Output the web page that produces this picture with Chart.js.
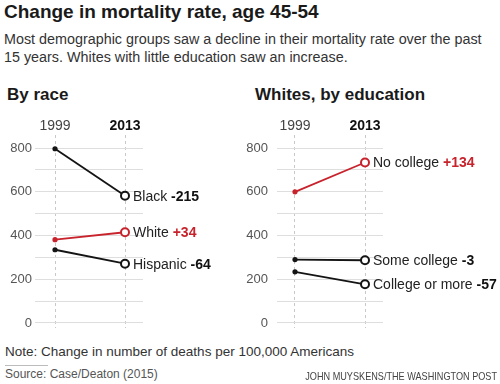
<!DOCTYPE html>
<html>
<head>
<meta charset="utf-8">
<script src="https://cdn.jsdelivr.net/npm/chart.js@4.4.1/dist/chart.umd.min.js"></script>
<style>
  body { margin: 0; width: 500px; height: 384px; background: #fff; overflow: hidden; position: relative;
         font-family: "Liberation Sans", Arial, sans-serif; color: #222; }
  .txt { position: absolute; white-space: nowrap; }
  #title { left: 4px; top: 1px; font-size: 19px; line-height: 22px; font-weight: bold; color: #1a1a1a; }
  #sub { left: 4px; top: 30px; font-size: 14.35px; line-height: 18px; color: #333; }
  .head { top: 85px; font-size: 17px; line-height: 20px; font-weight: bold; color: #1a1a1a; }
  #note { left: 5px; top: 344px; font-size: 13.5px; line-height: 16px; color: #333; }
  #rule { position: absolute; left: 5px; top: 365px; width: 43px; height: 1px; background: #bbb; }
  #source { left: 5px; top: 366px; font-size: 12px; line-height: 16px; color: #555; }
  #credit { right: 3px; top: 369px; font-size: 11px; line-height: 14px; color: #444;
            transform: scaleX(0.83); transform-origin: right center; }
  canvas { position: absolute; top: 110px; }
</style>
</head>
<body>
<div class="txt" id="title">Change in mortality rate, age 45-54</div>
<div class="txt" id="sub">Most demographic groups saw a decline in their mortality rate over the past<br>15 years. Whites with little education saw an increase.</div>
<div class="txt head" style="left:7px">By race</div>
<div class="txt head" style="left:255px">Whites, by education</div>
<canvas id="racechart" width="250" height="224" style="left:0px"></canvas>
<canvas id="educhart" width="257" height="224" style="left:243px"></canvas>
<div class="txt" id="note">Note: Change in number of deaths per 100,000 Americans</div>
<div id="rule"></div>
<div class="txt" id="source">Source: Case/Deaton (2015)</div>
<div class="txt" id="credit">JOHN MUYSKENS/THE WASHINGTON POST</div>
<script>
// data
const years = [1999, 2013];
const yticks = [0, 100, 200, 300, 400, 500, 600, 700, 800];

const racenames = ['Black', 'White', 'Hispanic'];
const race1999 = [797, 381, 335];
const race2013 = [582, 415, 271];
const racechange = ['-215', '+34', '-64'];

const edunames = ['No college', 'Some college', 'College or more'];
const edu1999 = [600, 290, 234];
const edu2013 = [734, 287, 177];
const educhange = ['+134', '-3', '-57'];

const red = '#c8232c';
const black = '#141414';

// labels at the 2013 end of every line
const endlabels = {
    id: 'endlabels',
    afterDatasetsDraw(chart) {
        const ctx = chart.ctx;
        ctx.save();
        ctx.textBaseline = 'middle';
        chart.data.datasets.forEach(function(ds, i) {
            const pt = chart.getDatasetMeta(i).data[1];
            let x = pt.x + 8;
            ctx.font = '14px "Liberation Sans", Arial, sans-serif';
            ctx.fillStyle = '#222';
            const name = ds.label + ' ';
            ctx.fillText(name, x, pt.y + 1);
            x += ctx.measureText(name).width;
            ctx.font = 'bold 14px "Liberation Sans", Arial, sans-serif';
            ctx.fillStyle = ds.highlight ? red : '#111';
            ctx.fillText(ds.change, x, pt.y + 1);
        });
        ctx.restore();
    }
};

function buildchart(id, names, v1999, v2013, changes, redindex, xmin, axiswidth, axispad, rightpad) {
    const datasets = [];
    for (let i = 0; i < names.length; i++) {
        const c = i === redindex ? red : black;
        datasets.push({
            label: names[i],
            change: changes[i],
            highlight: i === redindex,
            data: [{ x: years[0], y: v1999[i] }, { x: years[1], y: v2013[i] }],
            borderColor: c,
            borderWidth: 1.8,
            pointRadius: [2.6, 4],
            pointBorderWidth: [0, 2],
            pointBackgroundColor: [c, '#fff'],
            pointBorderColor: c
        });
    }
    return new Chart(document.getElementById(id), {
        type: 'line',
        data: { datasets: datasets },
        plugins: [endlabels],
        options: {
            responsive: false,
            animation: false,
            events: [],
            layout: { padding: { left: 0, right: rightpad, top: 0, bottom: 3 } },
            plugins: { legend: { display: false }, tooltip: { enabled: false } },
            scales: {
                x: {
                    type: 'linear',
                    position: 'top',
                    min: xmin,
                    max: 2016.6,
                    afterBuildTicks: function(s) { s.ticks = years.map(function(v) { return { value: v }; }); },
                    afterFit: function(s) { s.height = 25; s.paddingLeft = 0; s.paddingRight = 0; },
                    ticks: {
                        padding: 0,
                        callback: function(v) { return String(v); },
                        color: function(c) { return c.tick && c.tick.value === 2013 ? '#111' : '#444'; },
                        font: function(c) {
                            return c.tick && c.tick.value === 2013
                                ? { size: 14, weight: 'bold', family: '"Liberation Sans", Arial, sans-serif' }
                                : { size: 14, family: '"Liberation Sans", Arial, sans-serif' };
                        }
                    },
                    grid: { color: '#c8c8c8', drawTicks: false, lineWidth: 1 },
                    border: { display: false, dash: [3, 3] }
                },
                y: {
                    min: -23,
                    max: 860,
                    afterBuildTicks: function(s) { s.ticks = yticks.map(function(v) { return { value: v }; }); },
                    afterFit: function(s) { s.width = axiswidth; s.paddingTop = 0; s.paddingBottom = 0; },
                    ticks: {
                        padding: axispad,
                        color: '#555',
                        font: { size: 13, family: '"Liberation Sans", Arial, sans-serif' },
                        callback: function(v) { return v % 200 === 0 ? String(v) : ''; }
                    },
                    grid: { color: '#dedede', drawTicks: false, lineWidth: 1 },
                    border: { display: false }
                }
            }
        }
    });
}

buildchart('racechart', racenames, race1999, race2013, racechange, 1, 1995, 35, 3, 107);
buildchart('educhart', edunames, edu1999, edu2013, educhange, 0, 1995.4, 34, 9, 117);
</script>
</body>
</html>
